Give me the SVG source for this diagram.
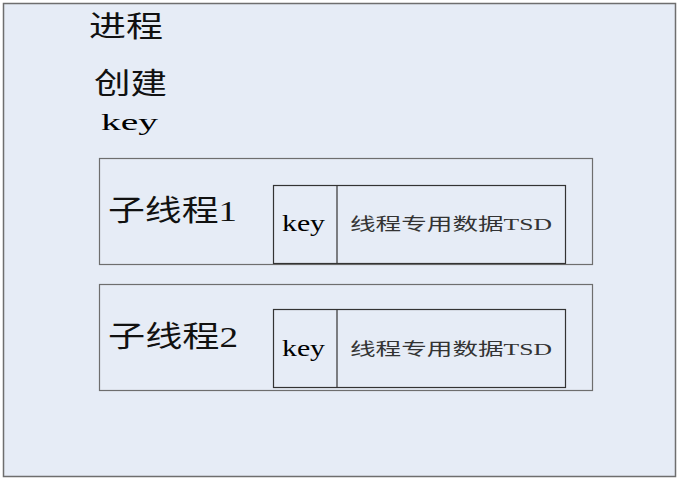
<svg xmlns="http://www.w3.org/2000/svg" width="680" height="481" viewBox="0 0 680 481">
<style>
.bg{fill:#E6ECF6;stroke:#6E6E6E;stroke-width:1.5}
.tb{fill:#E6ECF6;stroke:#6E6E6E;stroke-width:1.2}
.ib{fill:#E6ECF6;stroke:#333;stroke-width:1.2}
text{font-family:"Noto Sans CJK SC",serif;fill:#111}
.lat{font-family:"Liberation Serif",serif}
.big{font-size:29px}
.key{font-family:"Liberation Serif",serif;font-size:24px;fill:#000}
.sm{font-size:17px;fill:#333}
</style>
<rect width="680" height="481" fill="#fff"/>
<g id="process">
<rect class="bg" x="3.5" y="3.5" width="672" height="473"/>
<text class="big" x="89" y="37" textLength="74" lengthAdjust="spacingAndGlyphs">进程</text>
<text class="big" x="94" y="94" textLength="73" lengthAdjust="spacingAndGlyphs">创建</text>
<text class="key" x="101" y="130" font-size="27" textLength="57" lengthAdjust="spacingAndGlyphs">key</text>
</g>
<g id="thread1">
<rect class="tb" x="99.5" y="158.5" width="493" height="106"/>
<text class="big" x="108" y="221" textLength="129" lengthAdjust="spacingAndGlyphs">子线程<tspan class="lat">1</tspan></text>
<rect class="ib" x="273.5" y="185.5" width="292" height="78"/>
<line x1="337" y1="185.5" x2="337" y2="263.5" stroke="#333" stroke-width="1.2"/>
<text class="key" x="282" y="231" textLength="43" lengthAdjust="spacingAndGlyphs">key</text>
<text class="sm" x="350" y="230" textLength="202" lengthAdjust="spacingAndGlyphs">线程专用数据<tspan class="lat">TSD</tspan></text>
</g>
<g id="thread2">
<rect class="tb" x="99.5" y="284.5" width="493" height="106"/>
<text class="big" x="108" y="347" textLength="130" lengthAdjust="spacingAndGlyphs">子线程<tspan class="lat">2</tspan></text>
<rect class="ib" x="273.5" y="309.5" width="292" height="78"/>
<line x1="337" y1="309.5" x2="337" y2="387.5" stroke="#333" stroke-width="1.2"/>
<text class="key" x="282" y="356" textLength="43" lengthAdjust="spacingAndGlyphs">key</text>
<text class="sm" x="350" y="355" textLength="202" lengthAdjust="spacingAndGlyphs">线程专用数据<tspan class="lat">TSD</tspan></text>
</g>
<g id="connectors"></g>
</svg>
